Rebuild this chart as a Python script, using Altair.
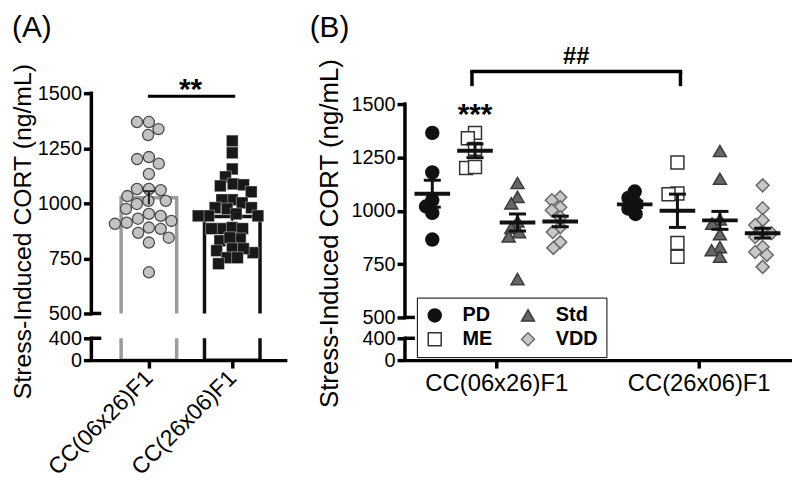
import math
import altair as alt
import pandas as pd

FONT = "Liberation Sans"

# ---------------- data ----------------
strains = ["CC(06x26)F1", "CC(26x06)F1"]
y_ticks = [0, 400, 500, 750, 1000, 1250, 1500]

# Panel A : all animals per strain
a_06x26 = [1369, 1369, 1337, 1310, 1201, 1180, 1210, 1133, 1065, 1060, 1065, 1033,
           1011, 1011, 997, 975, 952, 943, 920, 912, 930, 890, 907, 884, 866, 844, 822, 687]
a_26x06 = [1283, 1229, 1156, 1120, 1088, 1079, 1084, 1052, 1016, 1002, 1016, 975,
           980, 980, 943, 943, 943, 952, 885, 890, 885, 885, 830, 839, 844, 785,
           794, 776, 794, 753, 753, 726]
a_mean = [1025, 940]
a_sem = [30, 20]

# Panel B : by diet within strain
diets = ["PD", "ME", "Std", "VDD"]
b1_pd = [1365, 1180, 1050, 1020, 990, 865]
b1_me = [1365, 1340, 1290, 1200, 1205]
b1_std = [1130, 1065, 1035, 950, 920, 900, 880, 680]
b1_vdd = [1063, 1049, 1016, 1002, 970, 923, 900, 853, 826]
b2_pd = [1090, 1060, 1035, 1010, 985]
b2_me = [1226, 1081, 1077, 849, 784]
b2_std = [1280, 1150, 960, 940, 890, 830, 815, 785]
b2_vdd = [1119, 1012, 956, 933, 900, 895, 877, 830, 807, 793, 737]
b1_mean = [1080, 1281, 945, 950]
b1_sem = [63, 32, 40, 25]
b2_mean = [1030, 1000, 955, 895]
b2_sem = [15, 78, 42, 23]

# ---------------- layout ----------------
H = 269
A_W, B_W = 197, 390
A_XDOM = [-0.69, 1.655]
B_XDOM = [-0.451, 1.461]
Y_DOM = [0, 400, 500, 1500]
A_YRANGE = [H, H - 22, H - 47, 0]
B_YRANGE = [H, H - 22, H - 43, 11]
A_XPX = A_W / (A_XDOM[1] - A_XDOM[0])
B_XPX = B_W / (B_XDOM[1] - B_XDOM[0])
A_YPX = (A_YRANGE[2] - A_YRANGE[3]) / 1000.0
B_YPX = (B_YRANGE[2] - B_YRANGE[3]) / 1000.0
SUB_OFF = [-0.316, -0.105, 0.105, 0.316]


def swarm(vals, ypx, xpx, diam):
    placed = []
    offs = [0.0] * len(vals)
    order = sorted(range(len(vals)), key=lambda i: -vals[i])
    for i in order:
        y = vals[i] * ypx
        cands = [0.0]
        for px, py in placed:
            dy = abs(y - py)
            if dy < diam:
                dx = math.sqrt(diam * diam - dy * dy)
                cands += [px + dx, px - dx]
        cands.sort(key=lambda c: (abs(c), c))
        chosen = cands[-1]
        for c in cands:
            if all((c - px) ** 2 + (y - py) ** 2 >= diam * diam - 1e-6 for px, py in placed):
                chosen = c
                break
        placed.append((chosen, y))
        offs[i] = chosen / xpx
    return offs


ys_A = alt.Scale(domain=Y_DOM, range=A_YRANGE, nice=False, zero=False)
ys_B = alt.Scale(domain=Y_DOM, range=B_YRANGE, nice=False, zero=False)
xs_A = alt.Scale(domain=A_XDOM, nice=False, zero=False)
xs_B = alt.Scale(domain=B_XDOM, nice=False, zero=False)

label_expr = "[" + ",".join("'" + s + "'" for s in strains) + "][datum.value]"

yaxis_common = dict(values=y_ticks, format="d", domain=False, tickSize=8, tickWidth=3.5,
                    tickColor="black", labelFontSize=20, labelPadding=2, labelOverlap=False,
                    labelColor="black", title="Stress-Induced CORT (ng/mL)",
                    titleFontWeight="normal", titleColor="black", titleAngle=270,
                    titleBaseline="bottom", titleAlign="center", grid=False, zindex=1)

yaxis_A = alt.Axis(titleFontSize=25, titleX=-56, titleY=139, **yaxis_common)
yaxis_B = alt.Axis(titleFontSize=26, titleX=-63, titleY=141, **yaxis_common)

xaxis_common = dict(values=[0, 1], labelExpr=label_expr, tickSize=8, tickWidth=3.5,
                    domainWidth=3.5, domainColor="black", tickColor="black",
                    labelColor="black", title=None, grid=False, zindex=1, labelFlush=False,
                    labelOverlap=False)
xaxis_A = alt.Axis(labelAngle=-45, labelAlign="right", labelBaseline="middle",
                   labelFontSize=23, labelPadding=6, **xaxis_common)
xaxis_B = alt.Axis(labelAngle=0, labelAlign="center", labelBaseline="top",
                   labelFontSize=24, labelPadding=4, **xaxis_common)

one = pd.DataFrame({"k": [0]})
axis_segs = pd.DataFrame({"lo": [0, 500], "hi": [400, 1500]})
caps = pd.DataFrame({"v": [400, 500]})

# ---------------- panel A ----------------
pts_A = []
for g, vals in enumerate([a_06x26, a_26x06]):
    offs = swarm(vals, A_YPX, A_XPX, 12.0 if g == 0 else 10.5)
    for v, o in zip(vals, offs):
        pts_A.append({"g": g, "x": g + o, "v": v})
pts_A = pd.DataFrame(pts_A)

bars_A = pd.DataFrame({
    "x0": [g - 0.333 for g in range(2)],
    "x1": [g + 0.333 for g in range(2)],
    "base": [0, 0],
    "mean": a_mean,
    "col": ["#9b9b9b", "#111111"],
})
err_A = pd.DataFrame({
    "g": [0, 1],
    "lo": [m - s for m, s in zip(a_mean, a_sem)],
    "hi": [m + s for m, s in zip(a_mean, a_sem)],
    "c0": [g - 0.07 for g in range(2)],
    "c1": [g + 0.07 for g in range(2)],
})
band_df = pd.DataFrame({"b0": [400], "b1": [500]})

barsA = alt.Chart(bars_A).mark_bar(fillOpacity=0, strokeWidth=3.5).encode(
    x=alt.X("x0:Q", scale=xs_A, axis=xaxis_A),
    x2="x1:Q",
    y=alt.Y("mean:Q", scale=ys_A, axis=yaxis_A),
    y2="base:Q",
    stroke=alt.Stroke("col:N", scale=None),
)
bandA = alt.Chart(band_df).mark_rect(fill="white").encode(
    x=alt.value(0), x2=alt.value(A_W),
    y=alt.Y("b0:Q", scale=ys_A), y2="b1:Q",
)
circA = alt.Chart(pts_A[pts_A.g == 0]).mark_point(
    shape="circle", filled=True, size=125, fill="#c3c3c3", stroke="#4a4a4a",
    strokeWidth=1.3, opacity=1).encode(
    x=alt.X("x:Q", scale=xs_A), y=alt.Y("v:Q", scale=ys_A))
sqA = alt.Chart(pts_A[pts_A.g == 1]).mark_point(
    shape="square", filled=True, size=140, fill="#181818", stroke="white",
    strokeWidth=0.4, opacity=1).encode(
    x=alt.X("x:Q", scale=xs_A), y=alt.Y("v:Q", scale=ys_A))
errA_v = alt.Chart(err_A).mark_rule(color="#222222", strokeWidth=2).encode(
    x=alt.X("g:Q", scale=xs_A), y=alt.Y("lo:Q", scale=ys_A), y2="hi:Q")
errA_c1 = alt.Chart(err_A).mark_rule(color="#222222", strokeWidth=2).encode(
    x=alt.X("c0:Q", scale=xs_A), x2="c1:Q", y=alt.Y("hi:Q", scale=ys_A))
sigA_df = pd.DataFrame({"x0": [-0.012], "x1": [1.036], "y": [1486], "xt": [0.5], "yt": [1473]})
sigA_line = alt.Chart(sigA_df).mark_rule(color="black", strokeWidth=3).encode(
    x=alt.X("x0:Q", scale=xs_A), x2="x1:Q", y=alt.Y("y:Q", scale=ys_A))
sigA_text = alt.Chart(sigA_df).mark_text(text="**", font=FONT, fontSize=30, fontWeight="bold",
                                         baseline="alphabetic", align="center", color="black").encode(
    x=alt.X("xt:Q", scale=xs_A), y=alt.Y("yt:Q", scale=ys_A))
axA = alt.Chart(axis_segs).mark_rule(color="black", strokeWidth=3.5, strokeCap="square").encode(
    x=alt.value(0), y=alt.Y("lo:Q", scale=ys_A), y2="hi:Q")
capA = alt.Chart(caps).mark_rule(color="black", strokeWidth=3.5).encode(
    x=alt.value(0), x2=alt.value(10), y=alt.Y("v:Q", scale=ys_A))
labA = alt.Chart(one).mark_text(text="(A)", font=FONT, fontSize=30, align="left",
                                baseline="top", color="black").encode(
    x=alt.value(-80), y=alt.value(-81))

panelA = alt.layer(barsA, bandA, circA, sqA, errA_v, errA_c1, sigA_line, sigA_text,
                   axA, capA, labA).properties(width=A_W, height=H)

# ---------------- panel B ----------------
b_groups = [[b1_pd, b1_me, b1_std, b1_vdd], [b2_pd, b2_me, b2_std, b2_vdd]]
pts_B = []
for g, glist in enumerate(b_groups):
    for k, vals in enumerate(glist):
        offs = swarm(vals, B_YPX, B_XPX, 9.0)
        for v, o in zip(vals, offs):
            pts_B.append({"diet": diets[k], "x": g + SUB_OFF[k] + o, "v": v})
pts_B = pd.DataFrame(pts_B)

stat_rows = []
for g, (means, sems) in enumerate([(b1_mean, b1_sem), (b2_mean, b2_sem)]):
    for k in range(4):
        xc = g + SUB_OFF[k]
        stat_rows.append({"xc": xc, "m0": xc - 0.088, "m1": xc + 0.088,
                          "c0": xc - 0.042, "c1": xc + 0.042,
                          "mean": means[k], "lo": means[k] - sems[k], "hi": means[k] + sems[k]})
stats_B = pd.DataFrame(stat_rows)

shape_sc = alt.Scale(domain=diets, range=["circle", "square", "triangle-up", "diamond"])
fill_sc = alt.Scale(domain=diets, range=["#111111", "#ffffff", "#666666", "#c8c8c8"])
stroke_sc = alt.Scale(domain=diets, range=["#111111", "#333333", "#3a3a3a", "#6a6a6a"])
legB = alt.Legend(orient="none", legendX=328, legendY=206, columns=2, title=None,
                  labelFontSize=20, labelFontWeight="bold", labelFont=FONT, labelColor="black",
                  symbolSize=170, symbolStrokeWidth=1.5, strokeColor="black", padding=8,
                  rowPadding=4, columnPadding=26, labelOffset=18, symbolOpacity=1)

ptsB = alt.Chart(pts_B).mark_point(filled=True, size=170, strokeWidth=1.5, opacity=1).encode(
    x=alt.X("x:Q", scale=xs_B, axis=xaxis_B),
    y=alt.Y("v:Q", scale=ys_B, axis=yaxis_B),
    shape=alt.Shape("diet:N", scale=shape_sc, legend=legB),
    fill=alt.Fill("diet:N", scale=fill_sc, legend=legB),
    stroke=alt.Stroke("diet:N", scale=stroke_sc, legend=legB),
)
meanB = alt.Chart(stats_B).mark_rule(color="#111111", strokeWidth=4).encode(
    x=alt.X("m0:Q", scale=xs_B), x2="m1:Q", y=alt.Y("mean:Q", scale=ys_B))
semB = alt.Chart(stats_B).mark_rule(color="#111111", strokeWidth=3).encode(
    x=alt.X("xc:Q", scale=xs_B), y=alt.Y("lo:Q", scale=ys_B), y2="hi:Q")
capB_lo = alt.Chart(stats_B).mark_rule(color="#111111", strokeWidth=3).encode(
    x=alt.X("c0:Q", scale=xs_B), x2="c1:Q", y=alt.Y("lo:Q", scale=ys_B))
capB_hi = alt.Chart(stats_B).mark_rule(color="#111111", strokeWidth=3).encode(
    x=alt.X("c0:Q", scale=xs_B), x2="c1:Q", y=alt.Y("hi:Q", scale=ys_B))

br = pd.DataFrame({"x0": [-0.12], "x1": [0.91], "top": [1653], "end": [1584],
                   "xt": [0.395], "yt": [1686]})
brH = alt.Chart(br).mark_rule(color="black", strokeWidth=3.5, strokeCap="square").encode(
    x=alt.X("x0:Q", scale=xs_B), x2="x1:Q", y=alt.Y("top:Q", scale=ys_B))
brL = alt.Chart(br).mark_rule(color="black", strokeWidth=3.5).encode(
    x=alt.X("x0:Q", scale=xs_B), y=alt.Y("end:Q", scale=ys_B), y2="top:Q")
brR = alt.Chart(br).mark_rule(color="black", strokeWidth=3.5).encode(
    x=alt.X("x1:Q", scale=xs_B), y=alt.Y("end:Q", scale=ys_B), y2="top:Q")
brT = alt.Chart(br).mark_text(text="##", font=FONT, fontSize=24, fontWeight="bold",
                              baseline="alphabetic", align="center", color="black").encode(
    x=alt.X("xt:Q", scale=xs_B), y=alt.Y("yt:Q", scale=ys_B))
star = pd.DataFrame({"x": [SUB_OFF[1]], "y": [1405]})
starT = alt.Chart(star).mark_text(text="***", font=FONT, fontSize=30, fontWeight="bold",
                                  baseline="alphabetic", align="center", color="black").encode(
    x=alt.X("x:Q", scale=xs_B), y=alt.Y("y:Q", scale=ys_B))
axB = alt.Chart(axis_segs).mark_rule(color="black", strokeWidth=3.5, strokeCap="square").encode(
    x=alt.value(0), y=alt.Y("lo:Q", scale=ys_B), y2="hi:Q")
capB = alt.Chart(caps).mark_rule(color="black", strokeWidth=3.5).encode(
    x=alt.value(0), x2=alt.value(10), y=alt.Y("v:Q", scale=ys_B))
labB = alt.Chart(one).mark_text(text="(B)", font=FONT, fontSize=30, align="left",
                                baseline="top", color="black").encode(
    x=alt.value(-96), y=alt.value(-81))

panelB = alt.layer(ptsB, meanB, semB, capB_lo, capB_hi, brH, brL, brR, brT, starT,
                   axB, capB, labB).properties(width=B_W, height=H)

chart = alt.hconcat(panelA, panelB, spacing=119, bounds="flush").properties(
    padding={"left": 2, "top": 3, "right": 0, "bottom": 0}
).configure(font=FONT).configure_view(stroke=None).configure_axis(
    labelFont=FONT, titleFont=FONT, grid=False)

chart.save("out.html", embed_options={"renderer": "svg", "actions": False})
